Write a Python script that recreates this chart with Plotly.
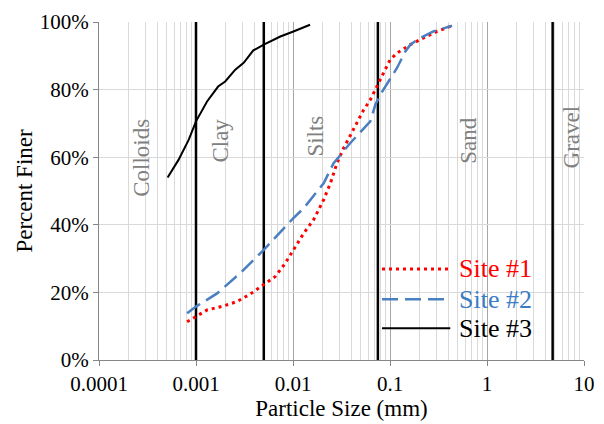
import math
import plotly.graph_objects as go

# Site data (particle size mm, percent finer)
site1_x = [0.00081, 0.001, 0.0013, 0.00193, 0.00265, 0.00363, 0.005, 0.00657, 0.0083, 0.0101,
           0.0129, 0.0163, 0.0207, 0.0243, 0.0284, 0.0333, 0.039, 0.0457, 0.0535, 0.0627,
           0.0706, 0.0794, 0.0895, 0.1, 0.118, 0.133, 0.162, 0.222, 0.305, 0.436]
site1_y = [11.3, 12.8, 14.8, 16.0, 17.3, 19.5, 22.2, 24.7, 28.6, 32.6,
           37.5, 41.5, 47.4, 52.3, 58.2, 62.7, 66.6, 70.1, 74.0, 77.0,
           80.0, 82.9, 86.4, 88.8, 90.8, 91.8, 93.3, 95.3, 97.2, 98.9]

site2_x = [0.00081, 0.001, 0.00165, 0.00286, 0.005, 0.0074, 0.0101, 0.0129, 0.0207, 0.0262,
           0.039, 0.0627, 0.0706, 0.0794, 0.1, 0.118, 0.144, 0.162, 0.205, 0.28, 0.436]
site2_y = [13.8, 15.8, 19.7, 25.7, 32.6, 38.0, 42.0, 44.9, 52.3, 58.2,
           64.2, 70.6, 75.5, 78.5, 82.9, 86.4, 91.3, 93.3, 95.3, 97.2, 98.9]

site3_x = [0.00051, 0.00066, 0.00084, 0.001, 0.0013, 0.00169, 0.002, 0.00254, 0.0031, 0.0039,
           0.005, 0.0074, 0.0101, 0.015]
site3_y = [54.0, 59.2, 65.1, 70.6, 76.5, 80.9, 82.4, 85.9, 87.9, 91.6,
           93.3, 95.7, 97.2, 99.2]

# Classification boundaries (mm)
boundaries = [0.001, 0.005, 0.075, 4.75]

# Zone labels
zone_names = ["Colloids", "Clay", "Silts", "Sand", "Gravel"]
zone_x = [0.000277, 0.00178, 0.017, 0.65, 7.5]
zone_y = [59.8, 65.0, 66.2, 65.1, 66.1]

x_tickvals = [0.0001, 0.001, 0.01, 0.1, 1, 10]
x_ticktext = ["0.0001", "0.001", "0.01", "0.1", "1", "10"]
y_tickvals = [0, 20, 40, 60, 80, 100]
y_ticktext = ["0%", "20%", "40%", "60%", "80%", "100%"]

# Legend
legend_names = ["Site #1", "Site #2", "Site #3"]
legend_colors = ["#ff0000", "#3a7cc6", "#000000"]
line_colors = ["#ff0000", "#4a7fc1", "#000000"]
line_widths = [3, 2.5, 2]
line_dashes = ["3px,4px", "16px,7px", "solid"]

FONT = "Liberation Serif"

fig = go.Figure()

for b in boundaries:
    fig.add_trace(go.Scatter(x=[b, b], y=[0, 100], mode="lines",
                             line=dict(color="black", width=2.5),
                             showlegend=False, hoverinfo="skip"))

for xs, ys, nm, c, w, d in zip([site1_x, site2_x, site3_x], [site1_y, site2_y, site3_y],
                               legend_names, line_colors, line_widths, line_dashes):
    fig.add_trace(go.Scatter(x=xs, y=ys, mode="lines", name=nm, showlegend=False,
                             line=dict(color=c, width=w, dash=d)))

for name, zx, zy in zip(zone_names, zone_x, zone_y):
    fig.add_annotation(x=math.log10(zx), y=zy, text=name, textangle=-90,
                       showarrow=False, xref="x", yref="y",
                       font=dict(family=FONT, size=23, color="#808080"))

# custom legend (paper coordinates)
leg_y = [0.2695, 0.1798, 0.0939]
for nm, tc, lc, w, d, ly in zip(legend_names, legend_colors, line_colors, line_widths,
                                line_dashes, leg_y):
    fig.add_shape(type="line", xref="paper", yref="paper", x0=0.5835, x1=0.7243,
                  y0=ly, y1=ly, line=dict(color=lc, width=w, dash=d))
    fig.add_annotation(xref="paper", yref="paper", x=0.738, y=ly, text=nm,
                       xanchor="left", yanchor="middle", showarrow=False,
                       font=dict(family=FONT, size=26, color=tc))

fig.update_layout(
    width=604, height=424,
    margin=dict(l=99, r=20, t=22, b=64),
    paper_bgcolor="white", plot_bgcolor="white",
    font=dict(family=FONT, size=21, color="black"),
    showlegend=False,
)

fig.update_xaxes(
    type="log", range=[-4, 1], automargin=False,
    tickvals=x_tickvals, ticktext=x_ticktext,
    showgrid=True, gridcolor="#a6a6a6", gridwidth=1,
    showline=True, linecolor="#868686", linewidth=1,
    ticks="outside", ticklen=5, tickcolor="#868686",
    minor=dict(showgrid=True, dtick="D1", gridcolor="#d9d9d9", gridwidth=1, ticks=""),
    title=dict(text="Particle Size (mm)", font=dict(family=FONT, size=23), standoff=4),
    zeroline=False,
)
fig.update_yaxes(
    range=[0, 100], tickvals=y_tickvals, ticktext=y_ticktext, automargin=False,
    showgrid=True, gridcolor="#d9d9d9", gridwidth=1,
    showline=True, linecolor="#868686", linewidth=1,
    ticks="outside", ticklen=5, tickcolor="#868686",
    title=dict(text="Percent Finer", font=dict(family=FONT, size=23), standoff=0),
    zeroline=False,
)

fig.write_html("out.html",
               config={"displayModeBar": False},
               post_script="document.body.style.margin='0';document.body.style.overflow='hidden';")
